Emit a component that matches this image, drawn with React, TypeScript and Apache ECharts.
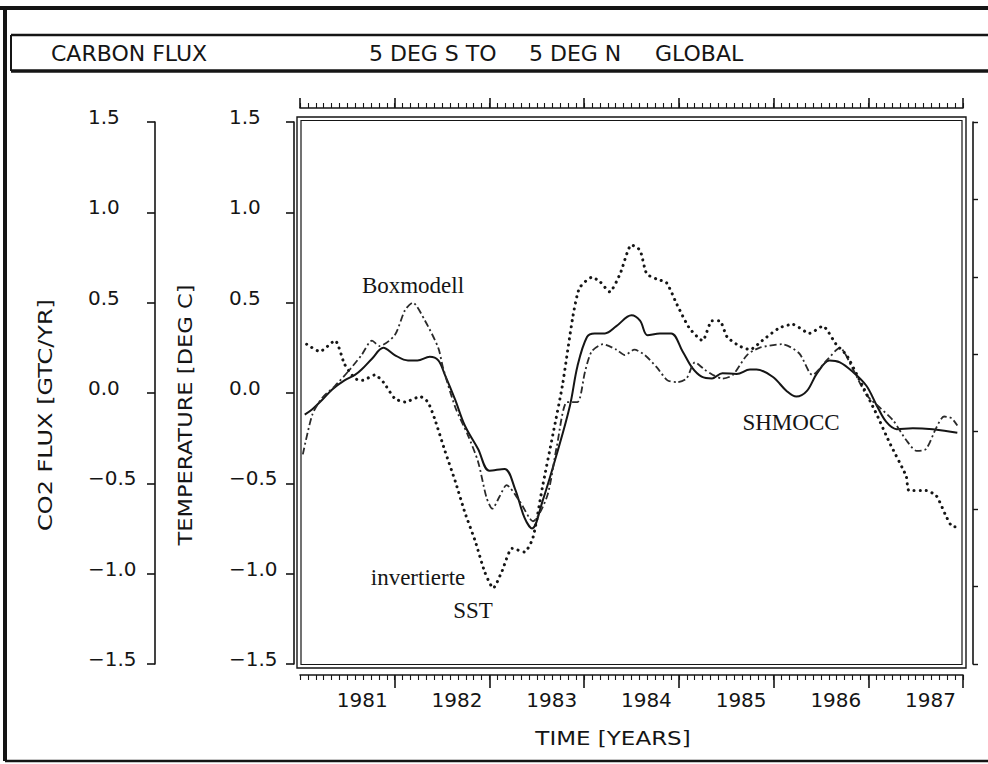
import React, { useEffect, useRef } from "react";
import * as echarts from "echarts";

// ---- data ----
const shmoccYears = [1980.05, 1980.13, 1980.23, 1980.34, 1980.47, 1980.58, 1980.65, 1980.76, 1980.88, 1981.0, 1981.14, 1981.24, 1981.37, 1981.46, 1981.53, 1981.64, 1981.74, 1981.88, 1982.0, 1982.16, 1982.27, 1982.37, 1982.45, 1982.56, 1982.71, 1982.85, 1982.93, 1983.03, 1983.11, 1983.22, 1983.34, 1983.5, 1983.59, 1983.67, 1983.8, 1983.92, 1984.04, 1984.14, 1984.24, 1984.35, 1984.46, 1984.61, 1984.75, 1984.82, 1984.99, 1985.14, 1985.24, 1985.35, 1985.46, 1985.59, 1985.7, 1985.83, 1985.98, 1986.09, 1986.19, 1986.3, 1986.47, 1986.68, 1986.82, 1986.94];
const shmoccFlux = [-0.12, -0.09, -0.04, 0.02, 0.07, 0.1, 0.13, 0.19, 0.25, 0.21, 0.18, 0.18, 0.2, 0.18, 0.1, -0.04, -0.18, -0.31, -0.43, -0.42, -0.53, -0.69, -0.75, -0.6, -0.34, -0.07, 0.15, 0.31, 0.33, 0.33, 0.37, 0.43, 0.4, 0.32, 0.33, 0.33, 0.23, 0.14, 0.09, 0.08, 0.11, 0.105, 0.13, 0.13, 0.09, 0.01, -0.02, 0.01, 0.11, 0.18, 0.17, 0.12, 0.04, -0.07, -0.16, -0.2, -0.195, -0.2, -0.21, -0.22];

const boxYears = [1980.03, 1980.13, 1980.23, 1980.37, 1980.51, 1980.65, 1980.76, 1980.84, 1981.0, 1981.11, 1981.19, 1981.32, 1981.46, 1981.51, 1981.64, 1981.77, 1981.88, 1981.97, 1982.03, 1982.11, 1982.18, 1982.32, 1982.46, 1982.61, 1982.71, 1982.82, 1982.93, 1983.01, 1983.08, 1983.2, 1983.34, 1983.43, 1983.53, 1983.64, 1983.77, 1983.88, 1983.98, 1984.08, 1984.17, 1984.27, 1984.36, 1984.46, 1984.57, 1984.72, 1984.85, 1985.09, 1985.27, 1985.41, 1985.56, 1985.7, 1985.83, 1985.98, 1986.12, 1986.26, 1986.4, 1986.51, 1986.61, 1986.72, 1986.8, 1986.88, 1986.94];
const boxFlux = [-0.34, -0.12, -0.03, 0.04, 0.12, 0.21, 0.29, 0.26, 0.32, 0.46, 0.5, 0.4, 0.25, 0.14, -0.08, -0.23, -0.38, -0.58, -0.64, -0.57, -0.51, -0.6, -0.71, -0.57, -0.3, -0.05, -0.05, 0.12, 0.23, 0.27, 0.24, 0.21, 0.24, 0.21, 0.14, 0.07, 0.06, 0.08, 0.17, 0.13, 0.1, 0.08, 0.1, 0.21, 0.25, 0.27, 0.22, 0.1, 0.18, 0.25, 0.14, -0.01, -0.08, -0.15, -0.26, -0.32, -0.31, -0.19, -0.13, -0.14, -0.18];

const sstYears = [1980.07, 1980.21, 1980.37, 1980.47, 1980.58, 1980.66, 1980.79, 1980.88, 1981.0, 1981.11, 1981.27, 1981.35, 1981.42, 1981.53, 1981.64, 1981.74, 1981.85, 1981.95, 1982.04, 1982.13, 1982.24, 1982.37, 1982.46, 1982.56, 1982.67, 1982.77, 1982.88, 1982.95, 1983.08, 1983.16, 1983.27, 1983.38, 1983.5, 1983.59, 1983.66, 1983.77, 1983.87, 1983.98, 1984.11, 1984.25, 1984.35, 1984.43, 1984.51, 1984.64, 1984.75, 1984.88, 1985.06, 1985.2, 1985.38, 1985.52, 1985.66, 1985.77, 1985.91, 1986.09, 1986.22, 1986.4, 1986.43, 1986.61, 1986.72, 1986.82, 1986.89, 1986.93];
const sstTemp = [0.27, 0.23, 0.29, 0.16, 0.08, 0.07, 0.1, 0.06, -0.03, -0.05, -0.02, -0.05, -0.14, -0.32, -0.49, -0.66, -0.82, -0.99, -1.08, -0.99, -0.86, -0.88, -0.8, -0.52, -0.23, 0.04, 0.42, 0.58, 0.64, 0.62, 0.56, 0.66, 0.82, 0.79, 0.66, 0.63, 0.61, 0.49, 0.36, 0.29, 0.4, 0.4, 0.31, 0.26, 0.24, 0.29, 0.36, 0.38, 0.33, 0.37, 0.27, 0.21, 0.07, -0.12, -0.27, -0.46, -0.54, -0.54, -0.57, -0.68, -0.74, -0.74];

const yearTicks = [1980, 1987];
const monthRange = [0, 84];
const valueRange = [-1.5, 1.5];

const zip = (xs: number[], ys: number[]) => xs.map((x, i) => [x, ys[i]]);

const INK = "#151515";
const SANS = "DejaVu Sans, Liberation Sans, sans-serif";
const SERIF = "Liberation Serif, DejaVu Serif, serif";

const fmtY = (v: number) => (v < 0 ? "\u2212" : "") + Math.abs(v).toFixed(1);

export default function App() {
  const ref = useRef<HTMLDivElement>(null);
  useEffect(() => {
    if (!ref.current) return;
    const chart = echarts.init(ref.current, null, { renderer: "svg" });

    const lineSeg = (x1: number, y1: number, x2: number, y2: number, w: number) => ({
      type: "line",
      shape: { x1, y1, x2, y2 },
      style: { stroke: INK, lineWidth: w },
      silent: true,
    });
    const txt = (text: string, x: number, y: number, size: number, family: string, extra: any = {}) => ({
      type: "text",
      x,
      y,
      silent: true,
      ...extra,
      style: {
        text,
        fill: INK,
        font: `${size}px ${family}`,
        textAlign: extra.align || "left",
        textVerticalAlign: "middle",
        align: extra.align || "left",
        verticalAlign: "middle",
      },
    });

    const yAxisBase = (offset: number, margin: number) => ({
      type: "value",
      position: "left",
      min: valueRange[0],
      max: valueRange[1],
      interval: 0.5,
      offset,
      axisLine: { show: true, onZero: false, lineStyle: { color: INK, width: 1.6 } },
      axisTick: { show: true, inside: false, length: 8, lineStyle: { color: INK, width: 1.6 } },
      splitLine: { show: false },
      axisLabel: {
        show: true,
        align: "left",
        verticalAlign: "bottom",
        lineHeight: 10,
        margin,
        color: INK,
        fontSize: 20,
        fontFamily: SANS,
        formatter: fmtY,
      },
    });

    const xAxisMajor = (position: "top" | "bottom", offset: number, showLabels: boolean) => ({
      type: "value",
      position,
      min: yearTicks[0],
      max: yearTicks[1],
      interval: 1,
      offset,
      axisLine: { show: true, onZero: false, lineStyle: { color: INK, width: 1.6 } },
      axisTick: { show: true, inside: false, length: position === "top" ? 10 : 13, lineStyle: { color: INK, width: 1.6 } },
      splitLine: { show: false },
      axisLabel: {
        show: showLabels,
        showMinLabel: false,
        showMaxLabel: true,
        align: "right",
        padding: [0, 7, 0, 0],
        margin: 15,
        color: INK,
        fontSize: 20,
        fontFamily: SANS,
        formatter: (v: number) => String(v),
      },
    });

    const xAxisMinor = (position: "top" | "bottom", offset: number) => ({
      type: "value",
      position,
      min: monthRange[0],
      max: monthRange[1],
      interval: 1,
      offset,
      axisLine: { show: false, onZero: false },
      axisTick: { show: true, inside: false, length: 5, lineStyle: { color: INK, width: 1.1 } },
      splitLine: { show: false },
      axisLabel: { show: false },
    });

    chart.setOption({
      animation: false,
      backgroundColor: "#ffffff",
      grid: { left: 300, right: 25, top: 122, bottom: 100, containLabel: false },
      xAxis: [
        xAxisMajor("bottom", 11, true),
        xAxisMajor("top", 14, false),
        xAxisMinor("bottom", 11),
        xAxisMinor("top", 14),
      ],
      yAxis: [
        yAxisBase(6, 65),
        yAxisBase(145, 67),
        {
          type: "value",
          position: "right",
          min: 0,
          max: 7,
          interval: 1,
          offset: 10,
          axisLine: { show: true, onZero: false, lineStyle: { color: INK, width: 1.6 } },
          axisTick: { show: true, inside: false, length: 5, lineStyle: { color: INK, width: 1.4 } },
          axisLabel: { show: false },
          splitLine: { show: false },
        },
      ],
      series: [
        {
          name: "SHMOCC",
          type: "line",
          data: zip(shmoccYears, shmoccFlux),
          showSymbol: false,
          smooth: 0.35,
          lineStyle: { color: INK, width: 2 },
          xAxisIndex: 0,
          yAxisIndex: 0,
        },
        {
          name: "Boxmodell",
          type: "line",
          data: zip(boxYears, boxFlux),
          showSymbol: false,
          smooth: 0.25,
          lineStyle: { color: "#2a2a2a", width: 1.8, type: [7, 3, 2, 3] },
          xAxisIndex: 0,
          yAxisIndex: 0,
        },
        {
          name: "invertierte SST",
          type: "line",
          data: zip(sstYears, sstTemp),
          showSymbol: false,
          smooth: 0.2,
          lineStyle: { color: INK, width: 3, type: [0.1, 6], cap: "round" },
          xAxisIndex: 0,
          yAxisIndex: 0,
        },
      ],
      graphic: [
        // page frame
        lineSeg(0, 8, 988, 8, 4),
        lineSeg(5, 8, 5, 761, 4),
        lineSeg(5, 761, 988, 761, 2.5),
        // title box
        lineSeg(11, 35, 988, 35, 2.5),
        lineSeg(11, 71, 988, 71, 3.5),
        lineSeg(11, 35, 11, 71, 2),
        txt("CARBON FLUX", 51, 53, 22, SANS),
        txt("5 DEG S TO", 369, 53, 22, SANS),
        txt("5 DEG N", 529, 53, 22, SANS),
        txt("GLOBAL", 655, 53, 22, SANS),
        // plot double frame
        { type: "rect", shape: { x: 297, y: 117, width: 669, height: 551 }, style: { fill: "none", stroke: INK, lineWidth: 1.4 }, silent: true },
        { type: "rect", shape: { x: 301, y: 120.5, width: 661, height: 544 }, style: { fill: "none", stroke: INK, lineWidth: 1.2 }, silent: true },
        // axis names
        txt("CO2 FLUX [GTC/YR]", 45, 415, 20, SANS, { rotation: Math.PI / 2, scaleX: 1.2, align: "center" }),
        txt("TEMPERATURE [DEG C]", 185, 415, 20, SANS, { rotation: Math.PI / 2, scaleX: 1.13, align: "center" }),
        txt("TIME [YEARS]", 613, 738, 20, SANS, { scaleX: 1.15, align: "center" }),
        // annotations
        txt("Boxmodell", 413, 285, 23, SERIF, { align: "center" }),
        txt("invertierte", 418, 577, 23, SERIF, { align: "center" }),
        txt("SST", 473, 610, 23, SERIF, { align: "center" }),
        txt("SHMOCC", 791, 422, 23, SERIF, { align: "center" }),
      ],
    });
    return () => chart.dispose();
  }, []);

  return (
    <div
      ref={ref}
      style={{ position: "fixed", left: 0, top: 0, width: 988, height: 764, background: "#fff" }}
    />
  );
}
